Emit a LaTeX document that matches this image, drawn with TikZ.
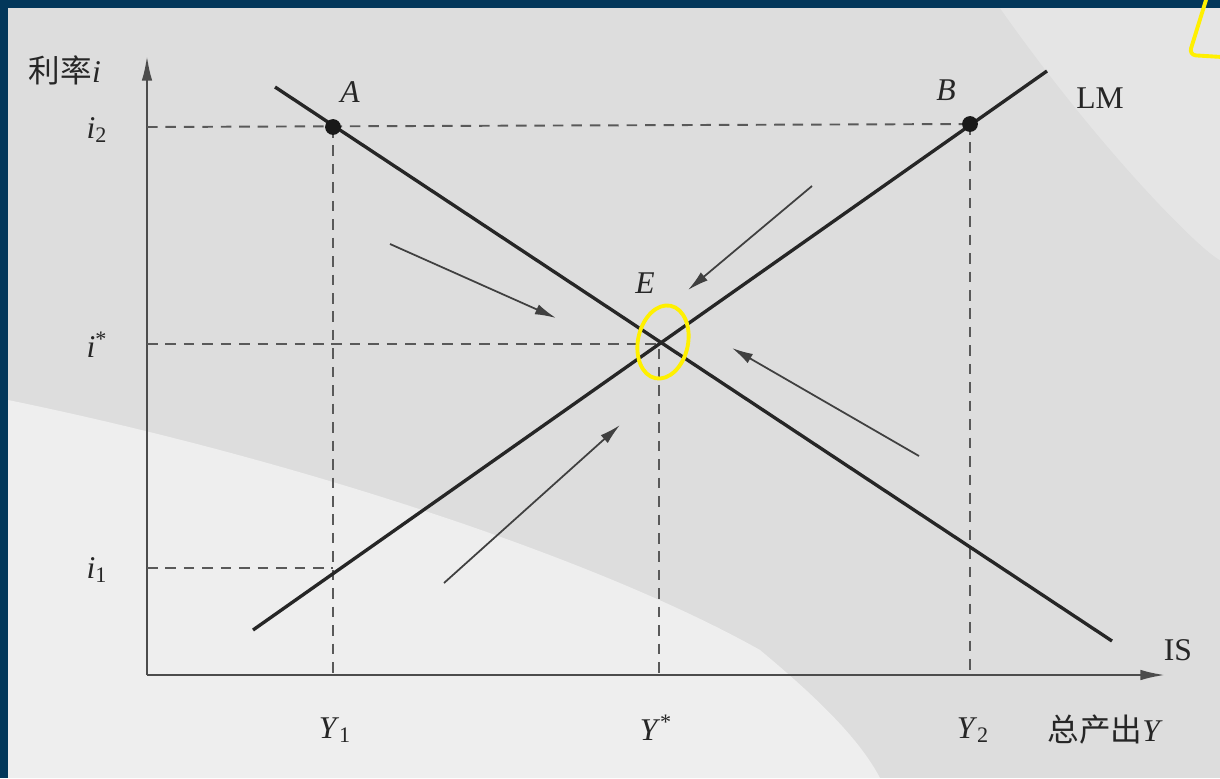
\documentclass[tikz,border=0pt]{standalone}
\usepackage{fontspec}
\setmainfont{Liberation Serif}
\newfontfamily\cjk{Noto Sans CJK SC}
\usetikzlibrary{arrows.meta, positioning}
\definecolor{frameblue}{HTML}{02375A}
\definecolor{paper}{HTML}{DDDDDD}
\definecolor{paperlight}{HTML}{EEEEEE}
\definecolor{hilite}{HTML}{FFF000}
\begin{document}
\begin{tikzpicture}[x=0.02cm, y=-0.02cm,
  axis/.style={line width=1.3pt, black!70, -{Latex[length=14pt,width=6pt]}},
  curve/.style={line width=1.9pt, black!85},
  guide/.style={dash pattern=on 6pt off 4.5pt, line width=1.1pt, black!65},
  push/.style={line width=1pt, black!75, -{Latex[length=12pt,width=6pt]}},
  lbl/.style={font=\fontsize{18}{21}\selectfont, text=black!85, inner sep=1pt},
  dot/.style={circle, fill=black!90, inner sep=0pt, minimum size=9pt},
  scribble/.style={line width=2.2pt, hilite, line cap=round, line join=round}
]
\useasboundingbox (0,0) rectangle (1220,778);
% paper and frame
\fill[frameblue] (0,0) rectangle (1220,778);
\fill[paper] (8,8) rectangle (1220,778);
\fill[paperlight] (8,400) .. controls (300,460) and (600,560) .. (760,650)
  .. controls (820,700) and (860,740) .. (880,778) -- (8,778) -- cycle;
\fill[paperlight, opacity=0.5] (1000,8) .. controls (1100,150) and (1200,250) .. (1220,260)
  -- (1220,8) -- cycle;

% axes
\coordinate (O) at (147,675);
\coordinate (ytip) at (147,56);
\coordinate (xtip) at (1165,675);
\draw[axis] (O) -- (ytip);
\draw[axis] (O) -- (xtip);

% points
\coordinate (A) at (333,127);
\coordinate (B) at (970,124);
\coordinate (E) at (659,344);
\coordinate (C) at (333,568);

% guide lines
\draw[guide] (O |- A) -- (B);
\draw[guide] (A) -- (A |- O);
\draw[guide] (B) -- (B |- O);
\draw[guide] (O |- E) -- (E) -- (E |- O);
\draw[guide] (O |- C) -- (C);

% IS and LM
\coordinate (is1) at (275,87);
\coordinate (is2) at (1112,641);
\coordinate (lm1) at (253,630);
\coordinate (lm2) at (1047,71);
\draw[curve] (is1) -- (is2);
\draw[curve] (lm1) -- (lm2);
\node[dot] (dotA) at (A) {};
\node[dot] (dotB) at (B) {};

% adjustment arrows
\coordinate (p1) at (390,244); \coordinate (q1) at (556,318);
\coordinate (p2) at (812,186); \coordinate (q2) at (688,290);
\coordinate (p3) at (919,456); \coordinate (q3) at (732,348);
\coordinate (p4) at (444,583); \coordinate (q4) at (620,425);
\draw[push] (p1) -- (q1);
\draw[push] (p2) -- (q2);
\draw[push] (p3) -- (q3);
\draw[push] (p4) -- (q4);

% labels
\node[lbl] (rate) at (65,70) {{\cjk 利率}\textit{i}};
\node[lbl] (i2) at (97,130) {\textit{i}\textsubscript{2}};
\node[lbl] (istar) at (97,345) {\textit{i}\textsuperscript{*}};
\node[lbl] (i1) at (97,570) {\textit{i}\textsubscript{1}};
\node[lbl] (labA) at (350,92) {\textit{A}};
\node[lbl] (labB) at (946,90) {\textit{B}};
\node[lbl] (labE) at (645,283) {\textit{E}};
\node[lbl] (labLM) at (1100,98) {LM};
\node[lbl] (labIS) at (1178,650) {IS};
\node[lbl] (Y1) at (335,730) {\textit{Y}\textsubscript{1}};
\node[lbl] (Ystar) at (656,728) {\textit{Y}\textsuperscript{*}};
\node[lbl] (Y2) at (973,730) {\textit{Y}\textsubscript{2}};
\node[lbl] (output) at (1105,730) {{\cjk 总产出}\textit{Y}};

% highlight marks
\draw[scribble, rotate around={-12:(663,342)}] (663,342) ellipse [x radius=25, y radius=37];
\draw[scribble, rounded corners=4pt] (1206,0) -- (1189,55) -- (1222,57);
\end{tikzpicture}
\end{document}
